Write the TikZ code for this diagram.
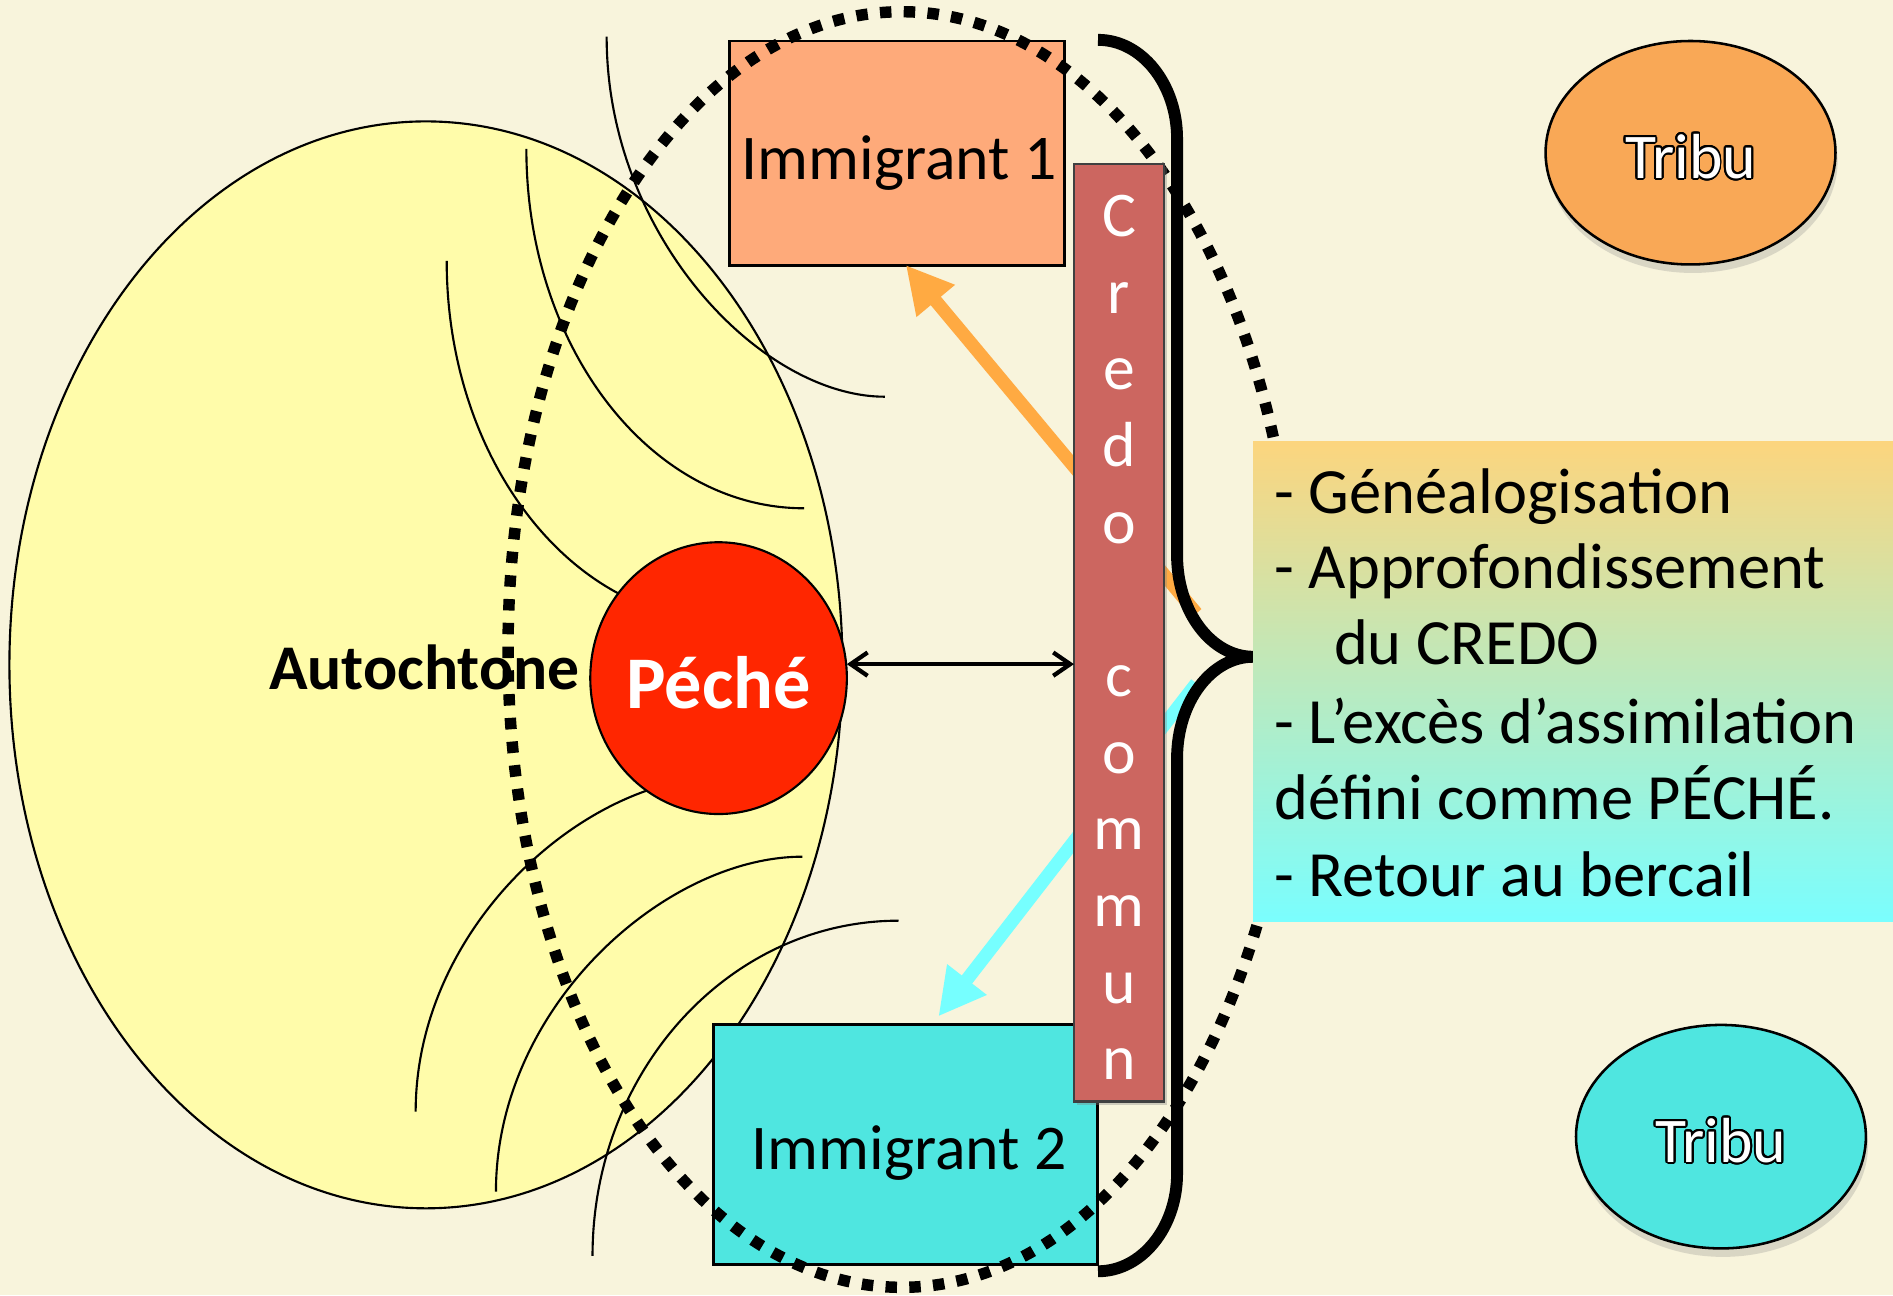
\documentclass[tikz,border=0pt]{standalone}
\usepackage{fontspec}
\setmainfont{Carlito}
\usepackage{contour}
\contourlength{0.45pt}
\contournumber{24}
\usetikzlibrary{arrows.meta,shapes.geometric,shadows}
\definecolor{bgc}{RGB}{248,244,220}
\definecolor{yel}{RGB}{255,252,170}
\definecolor{imo}{RGB}{254,170,122}
\definecolor{imc}{RGB}{79,230,224}
\definecolor{credoc}{RGB}{204,102,96}
\definecolor{pechec}{RGB}{255,38,0}
\definecolor{arro}{RGB}{255,170,66}
\definecolor{arrc}{RGB}{118,255,255}
\definecolor{tribo}{RGB}{249,168,86}
\definecolor{gtop}{RGB}{252,213,126}
\definecolor{gbot}{RGB}{122,254,254}
\begin{document}
\begin{tikzpicture}[x=0.01cm,y=-0.01cm,
  every node/.style={inner sep=0pt, outer sep=0pt},
  txt/.style={font=\fontsize{15}{18}\selectfont, anchor=base},
  listtxt/.style={font=\fontsize{15.2}{18}\selectfont, anchor=base west},
  boldtxt/.style={font=\fontsize{15}{18}\selectfont\bfseries, anchor=base},
  box/.style={rectangle, draw=black, line width=0.7pt},
  fine/.style={draw=black, line width=0.5pt},
  dots/.style={draw=black, line width=2.7pt, dash pattern=on 2.7pt off 2.9pt},
  bracestyle/.style={draw=black, line width=2.8pt},
  fatarrow/.style={line width=3.1pt, -{Triangle[length=11pt,width=11pt]}},
  dbl/.style={line width=1pt, {Straight Barb[length=4pt,width=5.5pt]}-{Straight Barb[length=4pt,width=5.5pt]}},
  tribu/.style={ellipse, draw=black, line width=0.6pt, minimum width=2.4cm, minimum height=1.85cm,
    drop shadow={shadow xshift=0.5pt, shadow yshift=-2pt, opacity=0.25}},
]
\fill[bgc] (0,0) rectangle (1568,1072.7);
\useasboundingbox (0,0) rectangle (1568,1072.7);

% Autochtone ellipse
\node[ellipse, fill=yel, fine, minimum width=6.896cm, minimum height=8.998cm] (auto) at (352.8,550.7) {};

% arcs
\draw[fine] (502.5,30.4) .. controls (502.5,195.1) and (630.2,328.6) .. (733,328.6);
\draw[fine] (436,123.4) .. controls (436,287.8) and (538.9,421) .. (666,421);
\draw[fine] (370,216) .. controls (370,380.6) and (472.9,514) .. (600,514);
\draw[fine] (344.3,920.8) .. controls (344.3,767.6) and (484.6,643.5) .. (598.3,643.5);
\draw[fine] (410.8,987) .. controls (410.8,833.8) and (551.1,709.6) .. (664.7,709.6);
\draw[fine] (490.8,1040.3) .. controls (490.8,886.9) and (604.3,762.6) .. (744.3,762.6);

% Peche circle
\node[ellipse, fill=pechec, fine, minimum width=2.124cm, minimum height=2.25cm] (peche) at (595.2,561.7) {};

% Immigrant boxes
\node[box, fill=imo, minimum width=2.774cm, minimum height=1.855cm] (imm1) at (743.3,126.75) {};
\node[box, fill=imc, minimum width=3.176cm, minimum height=1.987cm] (imm2) at (750.2,947.65) {};

% coloured arrows
\coordinate (bo) at (991,508);
\coordinate (bc) at (991,566);
\draw[fatarrow, arro] (bo) -- ([xshift=2pt]imm1.south);
\draw[fatarrow, arrc] (bc) -- ([xshift=7.7pt,yshift=1.8pt]imm2.north);

% dotted ellipse
\node[ellipse, dots, minimum width=6.52cm, minimum height=10.56cm] (dotell) at (747,538) {};

% Credo commun
\node[rectangle, fill=credoc, draw=black!75, line width=0.6pt, minimum width=0.746cm, minimum height=7.759cm,
  drop shadow={shadow xshift=0.8pt, shadow yshift=-0.8pt, opacity=0.35}] (credo) at (926.9,524.05) {};
\foreach \i/\l in {0/C,1/r,2/e,3/d,4/o,6/c,7/o,8/m,9/m,10/u,11/n}
  \node[txt, text=white] (cl\i) at (926.9,{196+63.5*\i}) {\l};

% brace
\draw[bracestyle] (909.5,33) .. controls (945.7,33) and (975,69.7) .. (975,115)
  -- (975,460) .. controls (975,506.4) and (1003.2,544) .. (1038,544)
  .. controls (1003.2,544) and (975,581.6) .. (975,628)
  -- (975,972) .. controls (975,1016.7) and (945.7,1053) .. (909.5,1053);

% gradient text box
\node[rectangle, top color=gtop, bottom color=gbot, minimum width=5.3cm, minimum height=3.976cm, anchor=north west] (tbox) at (1038,365.3) {};
\node[listtxt] (t1) at (1055.7,425.2) {- Généalogisation};
\node[listtxt] (t2) at (1055.7,487.3) {- Approfondissement};
\node[listtxt] (t3) at (1105,550.8) {du CREDO};
\node[listtxt] (t4) at (1055.7,615.7) {- L’excès d’assimilation};
\node[listtxt] (t5) at (1055.7,679.2) {défini comme PÉCHÉ.};
\node[listtxt] (t6) at (1055.7,742.7) {- Retour au bercail};

% Tribu ellipses
\node[tribu, fill=tribo] (tribu1) at (1400.3,126.5) {};
\node[txt, text=white] (tribu1t) at (1400.3,147.7) {\contour{black}{Tribu}};
\node[tribu, fill=imc] (tribu2) at (1425.5,941.5) {};
\node[txt, text=white] (tribu2t) at (1425.5,962.7) {\contour{black}{Tribu}};

% double arrow
\coordinate (pA) at ([yshift=3.3pt]peche.east);
\draw[dbl] (pA) -- (pA -| credo.west);

% labels
\node[boldtxt] (autot) at (351.5,571.5) {Autochtone};
\node[anchor=base, text=white, font=\fontsize{17.5}{21}\selectfont\bfseries] (pechet) at (595.3,586.7) {Péché};
\node[txt] (imm1t) at (744.8,149) {Immigrant 1};
\node[txt] (imm2t) at (753,969) {Immigrant 2};
\end{tikzpicture}
\end{document}
